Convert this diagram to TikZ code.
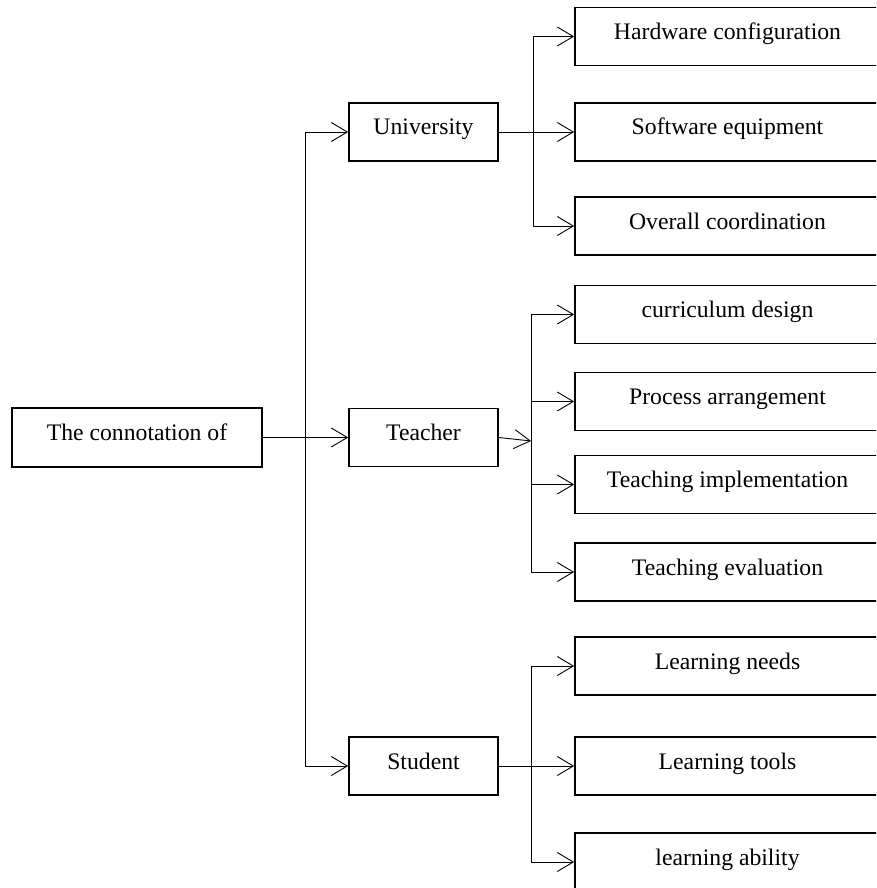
\documentclass[tikz,border=0pt]{standalone}
\usepackage{fontspec}
\setmainfont{Liberation Serif}
\usetikzlibrary{arrows.meta}
\begin{document}
\begin{tikzpicture}[x=1pt,y=-1pt,
  box/.style={draw,line width=1.7pt,inner sep=0pt,text height=16pt,text depth=10pt,font=\fontsize{23.7}{28}\selectfont},
  mainbox/.style={box,minimum width=250pt,minimum height=59pt},
  midbox/.style={box,minimum width=149pt,minimum height=58pt},
  leafbox/.style={box,minimum width=305pt,minimum height=58pt},
  conn/.style={line width=0.9pt},
  arr/.style={conn,-{Straight Barb[length=16pt,width=19pt,line width=0.9pt]}}]
\useasboundingbox (0,0) rectangle (876,888);
\clip (0,0) rectangle (876,888);
% nodes
\node[mainbox] (root) at (137,437.5) {The connotation of};
\node[midbox] (uni) at (423.5,132) {University};
\node[midbox] (tea) at (423.5,437.5) {Teacher};
\node[midbox] (stu) at (423.5,766) {Student};
\node[leafbox] (hw) at (727.5,36.5) {Hardware configuration};
\node[leafbox] (sw) at (727.5,132) {Software equipment};
\node[leafbox] (oc) at (727.5,226) {Overall coordination};
\node[leafbox] (cd) at (727.5,314.5) {curriculum design};
\node[leafbox] (pa) at (727.5,401.5) {Process arrangement};
\node[leafbox] (ti) at (727.5,484.5) {Teaching implementation};
\node[leafbox] (te) at (727.5,572) {Teaching evaluation};
\node[leafbox] (ln) at (727.5,666) {Learning needs};
\node[leafbox] (lt) at (727.5,766) {Learning tools};
\node[leafbox] (la) at (727.5,862) {learning ability};
% junction coordinates
\coordinate (trT) at (305,132);
\coordinate (trB) at (305,766);
\coordinate (uT) at (533,36.5);
\coordinate (uB) at (533,226);
\coordinate (tT) at (531,314.5);
\coordinate (tB) at (531,572);
\coordinate (tJ) at (531,441);
\coordinate (sT) at (531,666);
\coordinate (sB) at (531,862);
% trunk
\draw[conn] (trT) -- (trB);
\draw[arr] (root.east) -- (tea.west);
\draw[arr] (trT) -- (uni.west);
\draw[arr] (trB) -- (stu.west);
% university branch
\draw[conn] (uT) -- (uB);
\draw[arr] (uni.east) -- (sw.west);
\draw[arr] (uT) -- (hw.west);
\draw[arr] (uB) -- (oc.west);
% teacher branch
\draw[conn] (tT) -- (tB);
\draw[arr] (tea.east) -- (tJ);
\draw[arr] (tT) -- (cd.west);
\draw[arr] (tT |- pa.west) -- (pa.west);
\draw[arr] (tT |- ti.west) -- (ti.west);
\draw[arr] (tB) -- (te.west);
% student branch
\draw[conn] (sT) -- (sB);
\draw[arr] (stu.east) -- (lt.west);
\draw[arr] (sT) -- (ln.west);
\draw[arr] (sB) -- (la.west);
\end{tikzpicture}
\end{document}
